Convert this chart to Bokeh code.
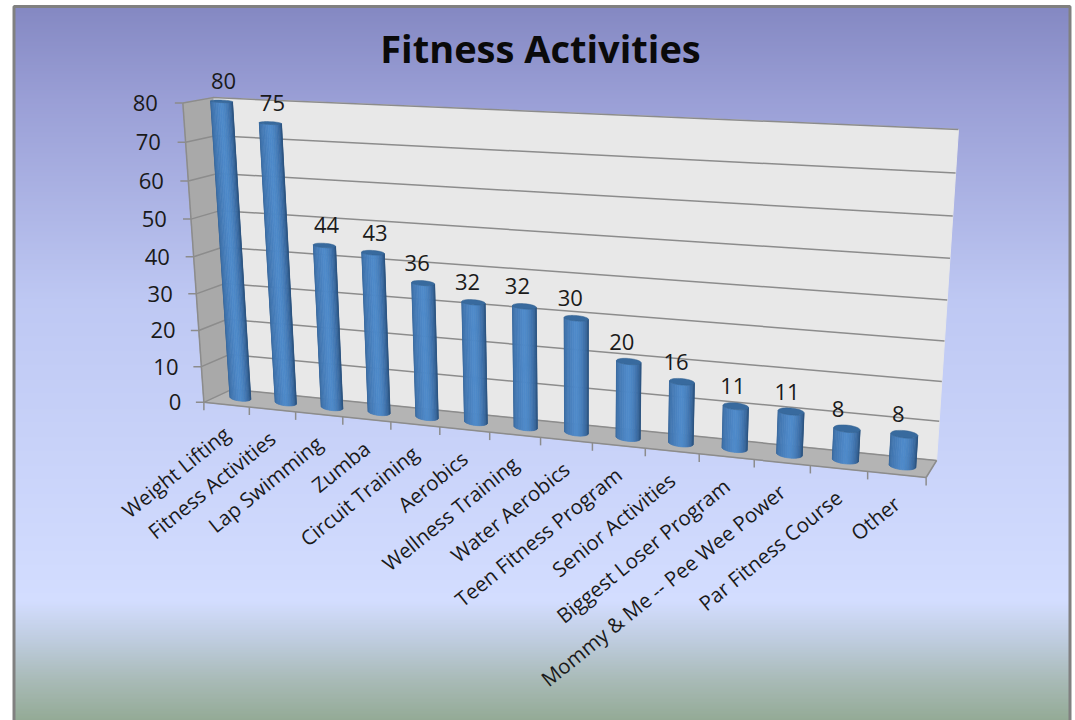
import numpy as np
from bokeh.plotting import figure
from bokeh.models import Range1d
from bokeh.core.properties import value
from bokeh.embed import file_html
from bokeh.resources import INLINE

title_text = "Fitness Activities"
categories = ["Weight Lifting", "Fitness Activities", "Lap Swimming", "Zumba", "Circuit Training",
              "Aerobics", "Wellness Training", "Water Aerobics", "Teen Fitness Program", "Senior Activities",
              "Biggest Loser Program", "Mommy & Me -- Pee Wee Power", "Par Fitness Course", "Other"]
counts = [80, 75, 44, 43, 36, 32, 32, 30, 20, 16, 11, 11, 8, 8]
value_ticks = [0, 10, 20, 30, 40, 50, 60, 70, 80]
V_MAX = 80.0
FONT = "Open Sans"

# ---- camera: solved from the seven visible corners of the plot box
corners_3d = [(0, 0, 0), (0, 1, 0), (1, 1, 0), (1, 0, 0), (0, 0, 1), (0, 1, 1), (1, 1, 1)]
corners_px = [(202.7, 401.7), (232, 389), (936, 460), (925.7, 477), (183, 102.7), (211.7, 97), (958, 129)]
A, b = [], []
for (X, Y, Z), (px, py) in zip(corners_3d, corners_px):
    A.append([X, Y, Z, 1, 0, 0, 0, 0, -px * X, -px * Y, -px * Z]); b.append(px)
    A.append([0, 0, 0, 0, X, Y, Z, 1, -py * X, -py * Y, -py * Z]); b.append(py)
m = np.linalg.lstsq(np.array(A, float), np.array(b, float), rcond=None)[0]


def proj(u, d, v):
    """u along categories 0..1, d depth 0 (front)..1 (back), v value 0..V_MAX."""
    z = v / V_MAX
    w = m[8] * u + m[9] * d + m[10] * z + 1
    return ((m[0] * u + m[1] * d + m[2] * z + m[3]) / w,
            (m[4] * u + m[5] * d + m[6] * z + m[7]) / w)


p = figure(width=1075, height=720, x_range=Range1d(0, 1075), y_range=Range1d(720, 0),
           toolbar_location=None, output_backend="svg", min_border=0,
           margin=(0, 0, 0, 0), background_fill_color="white", border_fill_color="white")
p.axis.visible = False
p.grid.visible = False
p.outline_line_color = None

# ---- chart-area background gradient
stops_y = [5, 100, 300, 600, 640, 680, 720]
stops_c = [(132, 136, 194), (154, 159, 214), (190, 200, 243), (211, 221, 255), (190, 204, 222), (168, 186, 182), (147, 170, 149)]
ys = np.arange(6, 720)
cols = ["#%02x%02x%02x" % tuple(int(round(np.interp(y, stops_y, [c[k] for c in stops_c]))) for k in range(3)) for y in ys]
p.quad(left=14, right=1069, top=ys, bottom=ys + 1.6, fill_color=cols, line_color=None)
# frame
BORDER = "#808080"
p.line([13.5, 13.5, 1069.5, 1069.5], [720, 6, 6, 720], line_color=BORDER, line_width=3)

# ---- walls
def face(pts, color):
    xs, ys_ = zip(*[proj(*q) for q in pts])
    p.patch(list(xs), list(ys_), fill_color=color, line_color=color, line_width=1)

face([(0, 1, 0), (1, 1, 0), (1, 1, V_MAX), (0, 1, V_MAX)], "#e8e8e8")
face([(0, 0, 0), (0, 1, 0), (0, 1, V_MAX), (0, 0, V_MAX)], "#a9a9a9")
face([(0, 0, 0), (1, 0, 0), (1, 1, 0), (0, 1, 0)], "#b4b4b4")

# ---- gridlines and value axis
GRID = "#8c8c8c"
for t in value_ticks:
    x0, y0 = proj(0, 0, t); x1, y1 = proj(0, 1, t); x2, y2 = proj(1, 1, t)
    p.line([x0 - 8, x0, x1, x2], [y0, y0, y1, y2], line_color=GRID, line_width=1.5)
    p.text([x0 - 25 + (80 - t) * 0.03], [y0], text=[str(t)], text_align="right", text_baseline="middle",
           text_font=value(FONT), text_font_size="22px", text_color="#1a1a1a")
# ---- category axis
n = len(categories)
fx0, fy0 = proj(0, 0, 0)
fx1, fy1 = proj(0, 0, V_MAX)
p.line([fx0, fx1], [fy0, fy1], line_color=GRID, line_width=1.5)
bx, by = proj(1, 0, 0)
p.line([fx0, bx], [fy0, by], line_color=GRID, line_width=1.5)
for i in range(n + 1):
    x, y = proj(i / n, 0, 0)
    p.line([x, x], [y, y + 8], line_color=GRID, line_width=1.5)
x, y = proj(1, 1, 0)
p.line([x, bx], [y, by], line_color=GRID, line_width=1.5)

# ---- cylinders
RU, RD, DEPTH = 0.0165, 0.23, 0.5
STRIPS = 18
SHADE_POS = [0.0, 0.12, 0.5, 0.62, 0.85, 1.0]
SHADE_COL = [(50, 95, 145), (62, 112, 168), (80, 140, 204), (74, 130, 192), (52, 98, 150), (42, 80, 124)]
label_dx = [2, 2, 2, 2, -6, -6, -7, -6, -7, -6, -3, -4, -9, -6]


def ellipse_pts(u, v, thetas):
    cx, cy = proj(u, DEPTH, v)
    lx, ly = proj(u - RU, DEPTH, v)
    rx, ry = proj(u + RU, DEPTH, v)
    ex, ey = (rx - lx) / 2, (ry - ly) / 2
    _, fy = proj(u, DEPTH - RD, v)
    _, ky = proj(u, DEPTH + RD, v)
    bb = abs(fy - ky) / 2
    return cx + ex * np.cos(thetas), cy + ey * np.cos(thetas) + bb * np.sin(thetas)


for i, val in enumerate(counts):
    u = (i + 0.5) / n
    th = np.linspace(np.pi, 0, STRIPS + 1)
    tx, ty = ellipse_pts(u, val, th)
    bx_, by_ = ellipse_pts(u, 0, th)
    xs_, ys_, cc = [], [], []
    for k in range(STRIPS):
        xs_.append([tx[k], tx[k + 1], bx_[k + 1], bx_[k]])
        ys_.append([ty[k], ty[k + 1], by_[k + 1], by_[k]])
        s = (k + 0.5) / STRIPS
        cc.append("#%02x%02x%02x" % tuple(int(np.interp(s, SHADE_POS, [c[j] for c in SHADE_COL])) for j in range(3)))
    p.patches(xs_, ys_, fill_color=cc, line_color=cc, line_width=0.7)
    full = np.linspace(0, 2 * np.pi, 40)
    ex_, ey_ = ellipse_pts(u, val, full)
    p.patch(list(ex_), list(ey_), fill_color="#386a9e", line_color="#33608f", line_width=0.5)
    lx_, ly_ = proj(u, DEPTH, val)
    p.text([lx_ + label_dx[i]], [ly_ - 20], text=[str(val)], text_align="center", text_baseline="middle",
           text_font=value(FONT), text_font_size="22px", text_color="#1a1a1a")

# ---- category labels
for i, c in enumerate(categories):
    x, y = proj((i + 0.5) / n, 0, 0)
    p.text([x], [y + 26], text=[c], angle=np.radians(39), text_align="right", text_baseline="middle",
           text_font=value(FONT), text_font_size="20.5px", text_color="#1a1a1a")

p.text([540], [47], text=[title_text], text_align="center", text_baseline="middle",
       text_font=value(FONT), text_font_style="bold", text_font_size="38px", text_color="#0a0a0a")

open("out.html", "w").write(file_html(p, INLINE))
